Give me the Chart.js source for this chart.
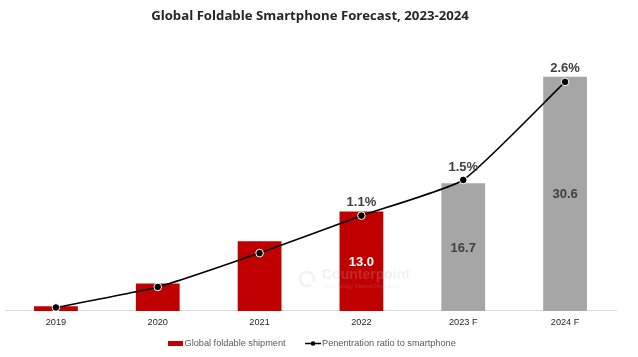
<!DOCTYPE html>
<html>
<head>
<meta charset="utf-8">
<script src="https://cdn.jsdelivr.net/npm/chart.js@4"></script>
<style>
  html, body { margin: 0; padding: 0; background: #fff; }
  #wrap { width: 638px; height: 357px; position: relative; }
</style>
</head>
<body>
<div id="wrap"><canvas id="c" width="638" height="357"></canvas></div>
<script>
const categories = ['2019', '2020', '2021', '2022', '2023 F', '2024 F'];
const shipments = [0.6, 3.6, 9.1, 13.0, 16.7, 30.6];
const penetration = [0.07, 0.30, 0.68, 1.1, 1.5, 2.6];
const barColors = ['#C00000', '#C00000', '#C00000', '#C00000', '#A6A6A6', '#A6A6A6'];
const shipmentLabels = ['', '', '', '13.0', '16.7', '30.6'];
const shipmentLabelColors = ['', '', '', '#FFFFFF', '#404040', '#404040'];
const penetrationLabels = ['', '', '', '1.1%', '1.5%', '2.6%'];
const legendTexts = ['Global foldable shipment', 'Penentration ratio to smartphone'];
const titleText = 'Global Foldable Smartphone Forecast, 2023-2024';

const labelPlugin = {
  id: 'labels',
  afterDatasetsDraw(chart) {
    const ctx = chart.ctx;
    ctx.save();
    // watermark
    ctx.globalAlpha = 0.22;
    ctx.strokeStyle = '#bdbdbd';
    ctx.lineWidth = 2.5;
    ctx.beginPath();
    ctx.arc(307, 279, 7, 0.3 * Math.PI, 2.1 * Math.PI);
    ctx.stroke();
    ctx.fillStyle = '#bdbdbd';
    ctx.font = 'bold 14px "Liberation Sans", Arial, sans-serif';
    ctx.textAlign = 'left';
    ctx.textBaseline = 'middle';
    ctx.fillText('Counterpoint', 322, 275);
    ctx.font = '6px "Liberation Sans", Arial, sans-serif';
    ctx.fillText('Technology Market Research', 323, 286);
    ctx.restore();

    ctx.save();
    ctx.textAlign = 'center';
    ctx.textBaseline = 'middle';
    ctx.font = 'bold 13px "Liberation Sans", Arial, sans-serif';
    const barMeta = chart.getDatasetMeta(0);
    barMeta.data.forEach((el, i) => {
      if (!shipmentLabels[i]) return;
      ctx.fillStyle = shipmentLabelColors[i];
      ctx.fillText(shipmentLabels[i], el.x, (el.y + el.base) / 2 + 1);
    });
    const lineMeta = chart.getDatasetMeta(1);
    ctx.fillStyle = '#404040';
    lineMeta.data.forEach((el, i) => {
      if (!penetrationLabels[i]) return;
      ctx.fillText(penetrationLabels[i], el.x, el.y - 13);
    });
    ctx.restore();
  },
  afterDraw(chart) {
    const ctx = chart.ctx;
    ctx.save();
    const y = 343.5;
    ctx.font = '9.2px "Liberation Sans", Arial, sans-serif';
    ctx.textBaseline = 'middle';
    ctx.textAlign = 'left';
    ctx.fillStyle = '#C00000';
    ctx.fillRect(168, 341, 15, 5);
    ctx.fillStyle = '#595959';
    ctx.fillText(legendTexts[0], 184.5, y);
    ctx.strokeStyle = '#000';
    ctx.lineWidth = 1.5;
    ctx.beginPath();
    ctx.moveTo(305, y);
    ctx.lineTo(321, y);
    ctx.stroke();
    ctx.fillStyle = '#000';
    ctx.beginPath();
    ctx.arc(313, y, 2.3, 0, Math.PI * 2);
    ctx.fill();
    ctx.fillStyle = '#595959';
    ctx.fillText(legendTexts[1], 322, y);
    ctx.restore();
  }
};

new Chart(document.getElementById('c'), {
  type: 'bar',
  data: {
    labels: categories,
    datasets: [
      {
        type: 'bar',
        label: legendTexts[0],
        data: shipments,
        backgroundColor: barColors,
        borderWidth: 0,
        categoryPercentage: 1,
        barPercentage: 0.43,
        yAxisID: 'y',
        order: 2
      },
      {
        type: 'line',
        label: legendTexts[1],
        data: penetration,
        borderColor: '#000000',
        borderWidth: 1.6,
        tension: 0.15,
        pointRadius: 3.8,
        pointBackgroundColor: '#000000',
        pointBorderColor: '#FFFFFF',
        pointBorderWidth: 1,
        yAxisID: 'y1',
        order: 1
      }
    ]
  },
  options: {
    responsive: false,
    animation: false,
    devicePixelRatio: 1,
    layout: { padding: { left: 4, right: 22, top: 0, bottom: 23 } },
    plugins: {
      legend: { display: false },
      tooltip: { enabled: false },
      title: {
        display: true,
        text: titleText,
        color: '#262626',
        font: { family: '"Open Sans", sans-serif', size: 13.2, weight: 'bold', lineHeight: 1.2 },
        padding: { top: 8, bottom: 16.2 }
      }
    },
    scales: {
      x: {
        grid: { display: false, drawTicks: false },
        border: { display: true, color: '#D9D9D9', width: 1 },
        ticks: {
          color: '#262626',
          padding: 6,
          font: { family: '"Liberation Sans", Arial, sans-serif', size: 9.2 }
        }
      },
      y: {
        display: false,
        min: 0,
        max: 35.41
      },
      y1: {
        display: false,
        position: 'right',
        min: 0.031,
        max: 3.069
      }
    }
  },
  plugins: [labelPlugin]
});
</script>
</body>
</html>
